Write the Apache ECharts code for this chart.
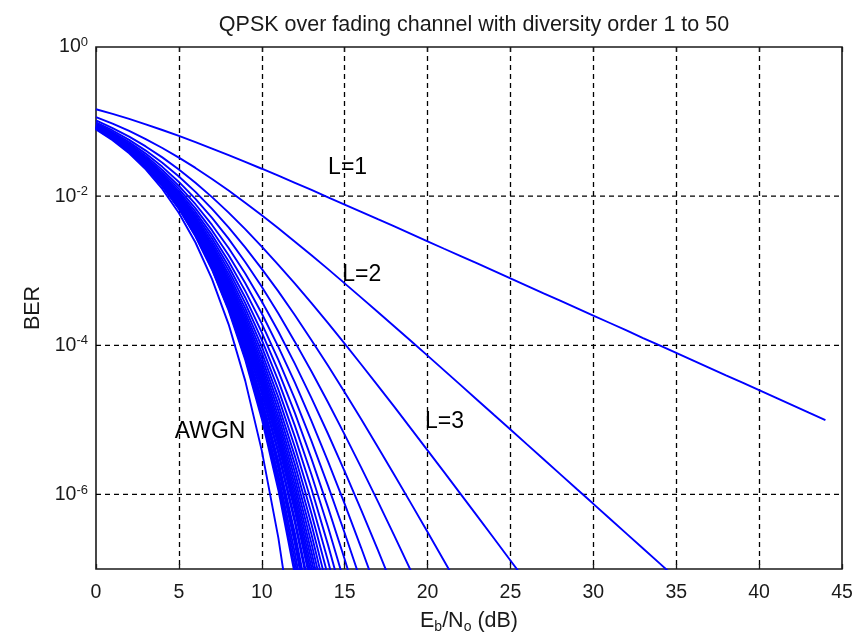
<!DOCTYPE html>
<html>
<head>
<meta charset="utf-8">
<script src="https://cdn.jsdelivr.net/npm/echarts@6.0.0/dist/echarts.min.js"></script>
<style>
  html, body { margin: 0; padding: 0; background: #fff; }
  #chart { width: 857px; height: 637px; }
</style>
</head>
<body>
<div id="chart"></div>
<script>
// ---- data (Eb/No in dB, BER values) ----
const ebno = [0,1,2,3,4,5,6,7,8,9,10,11,12,13,14,15,16,17,18,19,20,21,22,23,24,25,26,27,28,29,30,31,32,33,34,35,36,37,38,39,40,41,42,43,44];

const L1 = [0.1464,0.1267,0.1085,0.0919,0.0771,0.0642,0.0530,0.0435,0.0355,0.0288,0.0233,0.0188,0.0151,0.0121,0.00966,0.00772,0.00616,0.00491,0.00392,0.00312,0.00248,0.00197,0.00157,0.00125,9.92e-4,7.89e-4,6.27e-4,4.98e-4,3.96e-4,3.15e-4,2.50e-4,1.99e-4,1.58e-4,1.25e-4,9.95e-5,7.91e-5,6.28e-5,4.99e-5,3.96e-5,3.15e-5,2.50e-5,1.99e-5,1.58e-5,1.25e-5,9.95e-6];
const L2 = [0.1151,0.0939,0.0748,0.0582,0.0442,0.0329,0.0239,0.0170,0.0119,0.00816,0.00553,0.00370,0.00245,0.00161,0.00105,6.77e-4,4.36e-4,2.80e-4,1.79e-4,1.14e-4,7.26e-5,4.61e-5,2.92e-5,1.85e-5,1.17e-5,7.42e-6,4.69e-6,2.97e-6,1.87e-6,1.18e-6,7.48e-7,4.72e-7,2.98e-7,1.88e-7,1.19e-7,7.49e-8];
const L3 = [0.1035,0.0818,0.0627,0.0464,0.0331,0.0228,0.0151,0.00971,0.00602,0.00362,0.00211,0.00120,6.72e-4,3.67e-4,1.98e-4,1.05e-4,5.52e-5,2.88e-5,1.49e-5,7.64e-6,3.90e-6,1.99e-6,1.01e-6,5.11e-7,2.58e-7,1.30e-7,6.56e-8];
const L4 = [0.0979,0.0760,0.0569,0.0408,0.0280,0.0183,0.0114,0.00676,0.00382,0.00206,0.00106,5.28e-4,2.53e-4,1.17e-4,5.31e-5,2.34e-5,1.02e-5,4.33e-6,1.82e-6,7.59e-7,3.13e-7,1.28e-7,5.22e-8];
const L5 = [0.0941,0.0721,0.0530,0.0372,0.0247,0.0155,0.00918,0.00510,0.00267,0.00131,6.08e-4,2.67e-4,1.11e-4,4.45e-5,1.71e-5,6.34e-6,2.29e-6,8.05e-7,2.78e-7,9.41e-8];
const L6 = [0.0916,0.0695,0.0504,0.0347,0.0225,0.0137,0.00779,0.00411,0.00202,9.17e-4,3.87e-4,1.53e-4,5.63e-5,1.96e-5,6.46e-6,2.04e-6,6.16e-7,1.80e-7,5.12e-8];
const L7 = [0.0898,0.0676,0.0486,0.0330,0.0210,0.0125,0.00686,0.00347,0.00161,6.85e-4,2.67e-4,9.54e-5,3.15e-5,9.64e-6,2.76e-6,7.46e-7,1.91e-7,4.68e-8];
const L8 = [0.0884,0.0662,0.0472,0.0317,0.0199,0.0116,0.00619,0.00302,0.00134,5.37e-4,1.95e-4,6.39e-5,1.90e-5,5.19e-6,1.30e-6,3.04e-7,6.64e-8];
const L9 = [0.0873,0.0651,0.0461,0.0307,0.0190,0.0109,0.00569,0.00270,0.00115,4.38e-4,1.49e-4,4.51e-5,1.23e-5,3.00e-6,6.65e-7,1.35e-7,2.53e-8];
const L10 = [0.0865,0.0642,0.0452,0.0299,0.0183,0.0103,0.00530,0.00245,0.00101,3.67e-4,1.18e-4,3.33e-5,8.31e-6,1.84e-6,3.63e-7,6.46e-8];
const L11 = [0.0857,0.0635,0.0445,0.0292,0.0178,0.00991,0.00499,0.00225,8.99e-4,3.15e-4,9.60e-5,2.54e-5,5.87e-6,1.18e-6,2.09e-7,3.29e-8];
const L12 = [0.0852,0.0629,0.0439,0.0287,0.0173,0.00955,0.00474,0.00210,8.14e-4,2.75e-4,8.01e-5,2.00e-5,4.29e-6,7.92e-7,1.27e-7,1.77e-8];
const L13 = [0.0847,0.0624,0.0434,0.0282,0.0169,0.00925,0.00454,0.00197,7.46e-4,2.44e-4,6.82e-5,1.61e-5,3.24e-6,5.50e-7,7.99e-8];
const L14 = [0.0842,0.0620,0.0430,0.0279,0.0166,0.00900,0.00436,0.00187,6.92e-4,2.20e-4,5.90e-5,1.33e-5,2.51e-6,3.94e-7,5.22e-8];
const L15 = [0.0839,0.0616,0.0426,0.0275,0.0163,0.00878,0.00421,0.00178,6.46e-4,2.00e-4,5.18e-5,1.11e-5,1.98e-6,2.90e-7,3.52e-8];
const L16 = [0.0835,0.0613,0.0423,0.0272,0.0161,0.00860,0.00409,0.00170,6.07e-4,1.83e-4,4.60e-5,9.49e-6,1.60e-6,2.19e-7,2.45e-8];
const L17 = [0.0833,0.0610,0.0420,0.0270,0.0159,0.00843,0.00398,0.00163,5.74e-4,1.70e-4,4.13e-5,8.19e-6,1.31e-6,1.68e-7,1.74e-8];
const L18 = [0.0830,0.0607,0.0418,0.0267,0.0157,0.00828,0.00388,0.00158,5.46e-4,1.58e-4,3.74e-5,7.15e-6,1.09e-6,1.32e-7,1.27e-8];
const L19 = [0.0828,0.0605,0.0416,0.0265,0.0155,0.00815,0.00379,0.00153,5.22e-4,1.48e-4,3.42e-5,6.31e-6,9.20e-7,1.05e-7,9.4e-9];
const L20 = [0.0826,0.0603,0.0414,0.0263,0.0153,0.00804,0.00371,0.00148,5.00e-4,1.39e-4,3.14e-5,5.62e-6,7.86e-7,8.51e-8];
const L21 = [0.0824,0.0601,0.0412,0.0262,0.0152,0.00793,0.00364,0.00144,4.81e-4,1.32e-4,2.91e-5,5.05e-6,6.78e-7,6.98e-8];
const L22 = [0.0822,0.0599,0.0410,0.0260,0.0151,0.00783,0.00358,0.00141,4.64e-4,1.25e-4,2.71e-5,4.56e-6,5.91e-7,5.79e-8];
const L24 = [0.0819,0.0596,0.0407,0.0258,0.0149,0.00767,0.00347,0.00135,4.35e-4,1.14e-4,2.38e-5,3.81e-6,4.60e-7,4.12e-8];
const L25 = [0.0818,0.0595,0.0406,0.0256,0.0148,0.00760,0.00343,0.00132,4.23e-4,1.10e-4,2.24e-5,3.51e-6,4.10e-7,3.52e-8];
const L28 = [0.0814,0.0591,0.0403,0.0254,0.0145,0.00742,0.00331,0.00125,3.93e-4,9.86e-5,1.92e-5,2.82e-6,3.02e-7,2.31e-8];
const L30 = [0.0813,0.0589,0.0401,0.0252,0.0144,0.00732,0.00324,0.00122,3.76e-4,9.27e-5,1.76e-5,2.49e-6,2.53e-7,1.81e-8];
const L32 = [0.0811,0.0588,0.0399,0.0250,0.0143,0.00723,0.00318,0.00119,3.62e-4,8.77e-5,1.62e-5,2.22e-6,2.16e-7,1.45e-8];
const L36 = [0.0808,0.0585,0.0396,0.0248,0.0141,0.00708,0.00309,0.00114,3.40e-4,7.99e-5,1.42e-5,1.82e-6,1.63e-7,9.8e-9];
const L40 = [0.0806,0.0583,0.0394,0.0246,0.0139,0.00697,0.00302,0.00110,3.22e-4,7.40e-5,1.27e-5,1.55e-6,1.29e-7,7.0e-9];
const L45 = [0.0804,0.0581,0.0392,0.0244,0.0137,0.00685,0.00294,0.00106,3.06e-4,6.84e-5,1.13e-5,1.31e-6,1.02e-7,5.0e-9];
const L50 = [0.0802,0.0579,0.0390,0.0243,0.0136,0.00676,0.00289,0.00103,2.93e-4,6.41e-5,1.03e-5,1.14e-6,8.29e-8];
const AWGN = [0.0786,0.0563,0.0375,0.0229,0.0125,0.00595,0.00239,7.73e-4,1.91e-4,3.36e-5,3.87e-6,2.61e-7,9.0e-9];

const curveNames = ['L=1','L=2','L=3','L=4','L=5','L=6','L=7','L=8','L=9','L=10','L=11','L=12','L=13','L=14','L=15','L=16','L=17','L=18','L=19','L=20','L=21','L=22','L=24','L=25','L=28','L=30','L=32','L=36','L=40','L=45','L=50','AWGN'];
const curveData = [L1,L2,L3,L4,L5,L6,L7,L8,L9,L10,L11,L12,L13,L14,L15,L16,L17,L18,L19,L20,L21,L22,L24,L25,L28,L30,L32,L36,L40,L45,L50,AWGN];

// tick values
const xRange = [0, 45];
const yGridTicks = [1e-2, 1e-4, 1e-6];

// text annotations (label, Eb/No, BER)
const noteText = ['L=1','L=2','L=3','AWGN'];
const noteX = [14.0, 14.85, 19.85, 4.75];
const noteY = [0.0240, 8.9e-4, 9.4e-6, 7.0e-6];

// ---- chart ----
const FONT = '"Liberation Sans", Arial, Helvetica, sans-serif';
const TXT = '#1a1a1a';
const chart = echarts.init(document.getElementById('chart'), null, {renderer: 'canvas'});

const series = [];
// horizontal dashed grid lines (drawn through the axes, under the curves)
yGridTicks.forEach(v => {
  series.push({
    type: 'line',
    name: 'grid',
    data: [[xRange[0], v], [xRange[1], v]],
    showSymbol: false,
    symbol: 'none',
    lineStyle: {color: '#000', type: [5, 4], width: 1.3},
    z: 1,
    silent: true,
    animation: false
  });
});

curveData.forEach((arr, k) => {
  series.push({
    type: 'line',
    name: curveNames[k],
    data: arr.map((v, i) => [ebno[i], v]),
    showSymbol: false,
    symbol: 'none',
    lineStyle: {color: '#0000ff', width: 1.9},
    itemStyle: {color: '#0000ff'},
    z: 3,
    silent: true,
    animation: false,
    clip: true
  });
});

// annotations
series.push({
  type: 'line',
  name: 'notes',
  data: [],
  z: 6,
  silent: true,
  animation: false,
  markPoint: {
    symbol: 'circle',
    symbolSize: 0,
    itemStyle: {color: 'transparent'},
    label: {
      show: true,
      position: 'right',
      distance: 0,
      formatter: p => p.name,
      fontFamily: FONT,
      fontSize: 23,
      color: '#000'
    },
    data: noteText.map((t, i) => ({name: t, coord: [noteX[i], noteY[i]]})),
    animation: false
  }
});

const option = {
  backgroundColor: '#ffffff',
  animation: false,
  textStyle: {fontFamily: FONT},
  title: {
    text: 'QPSK over fading channel with diversity order 1 to 50',
    left: 469,
    textAlign: 'center',
    top: 9,
    textStyle: {fontFamily: FONT, fontSize: 21.5, fontWeight: 'normal', color: TXT}
  },
  grid: {
    left: 96, top: 47, right: 15, bottom: 68,
    outerBoundsMode: 'none',
    containLabel: false,
    show: true, borderColor: '#1a1a1a', borderWidth: 1.6, backgroundColor: 'transparent'
  },
  xAxis: [{
    type: 'value',
    min: xRange[0], max: xRange[1], interval: 5,
    axisLine: {show: false},
    axisTick: {show: true, inside: true, length: 5, lineStyle: {color: '#1a1a1a', width: 1.3}},
    axisLabel: {fontFamily: FONT, fontSize: 19.5, color: TXT, margin: 14},
    splitLine: {show: true, showMinLine: false, showMaxLine: false, lineStyle: {color: '#000', type: [5, 4], width: 1.3}},
    name: '{n|E}{sub|b}{n|/N}{sub|o}{n| (dB)}',
    nameLocation: 'middle',
    nameGap: 41,
    nameTextStyle: {
      rich: {
        n: {fontFamily: FONT, fontSize: 21.5, color: TXT, lineHeight: 24, verticalAlign: 'top', padding: [0, 0, 6, 0]},
        sub: {fontFamily: FONT, fontSize: 14, color: TXT, lineHeight: 14, verticalAlign: 'bottom'}
      }
    }
  }, {
    type: 'value',
    position: 'top',
    min: xRange[0], max: xRange[1], interval: 5,
    axisLine: {show: false},
    axisTick: {show: true, inside: true, length: 5, lineStyle: {color: '#1a1a1a', width: 1.3}},
    axisLabel: {show: false},
    splitLine: {show: false}
  }],
  yAxis: {
    type: 'log',
    logBase: 10,
    min: 1e-7, max: 1,
    axisLine: {show: false},
    axisTick: {show: false},
    splitLine: {show: false},
    axisLabel: {
      margin: 8,
      formatter: function (v) {
        const e = Math.round(Math.log10(v));
        if (e % 2 !== 0) return '';
        return '{b|10}{s|' + e + '}';
      },
      rich: {
        b: {fontFamily: FONT, fontSize: 19.5, color: TXT, lineHeight: 22, padding: [8, 0, 8, 0]},
        s: {fontFamily: FONT, fontSize: 13, color: TXT, lineHeight: 13, verticalAlign: 'top'}
      }
    },
    name: 'BER',
    nameLocation: 'middle',
    nameGap: 51,
    nameTextStyle: {fontFamily: FONT, fontSize: 21.5, color: TXT}
  },
  series: series
};
chart.setOption(option);
</script>
</body>
</html>
